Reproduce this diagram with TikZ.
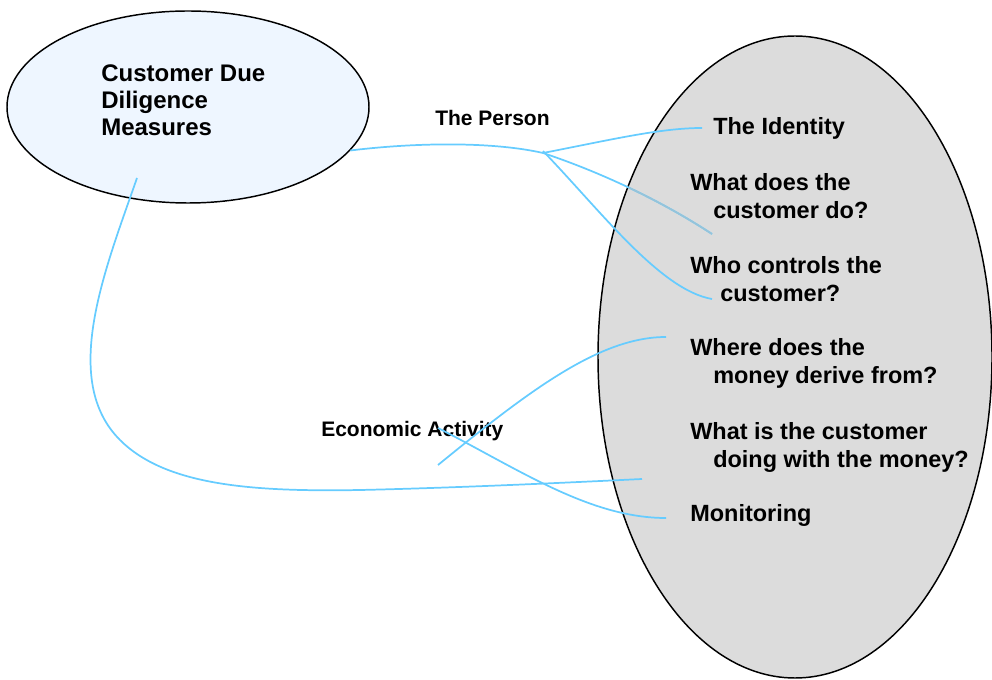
\documentclass[tikz,border=0pt]{standalone}
\usepackage{fontspec}
\setmainfont{Liberation Sans}
\usetikzlibrary{shapes.geometric}

\definecolor{cddfill}{RGB}{238,246,255}
\definecolor{checkfill}{RGB}{220,220,220}
\definecolor{linkblue}{RGB}{102,204,255}
\definecolor{linkmuted}{RGB}{150,196,218}

\tikzset{
  link/.style={draw=linkblue, line width=1.3pt},
  bubble/.style={ellipse, draw=black, line width=1.1pt, inner sep=0pt},
  question/.style={anchor=north west, inner sep=0pt, align=left,
    font=\fontsize{17.6}{21}\selectfont\bfseries},
  topic/.style={anchor=north west, inner sep=0pt,
    font=\fontsize{15.75}{18}\selectfont\bfseries}
}

\begin{document}
\begin{tikzpicture}[x=0.75pt,y=0.75pt,yscale=-1,xscale=1]
	\useasboundingbox (0,0) rectangle (992,680);
	
	%Shape: Ellipse [cdd]
	\node [bubble, fill=cddfill, minimum width=271.5pt, minimum height=144pt] (cdd) at (188,107) {};
	%Shape: Ellipse [checks]
	\node [bubble, fill=checkfill, minimum width=295.5pt, minimum height=481.5pt] (checks) at (795,357) {};
	
	% Text Node
	\node [anchor=north west, inner sep=0pt, align=left, font=\fontsize{18}{20.25}\selectfont\bfseries] (cddtext) at (101,64) {Customer Due\\Diligence\\Measures};
	% Text Node
	\node [topic] (person) at (435,110) {The Person};
	% Text Node
	\node [topic] (activity) at (321,421) {Economic Activity};
	% Text Node
	\node [question] (identity) at (713,117) {The Identity};
	% Text Node
	\node [question] (doing) at (690,173) {What does the\\\hspace*{17.25pt}customer do?};
	% Text Node
	\node [question] (control) at (690,256) {Who controls the\\\hspace*{22.5pt}customer?};
	% Text Node
	\node [question] (source) at (690,338) {Where does the\\\hspace*{17.25pt}money derive from?};
	% Text Node
	\node [question] (usage) at (690,422) {What is the customer\\\hspace*{17.25pt}doing with the money?};
	% Text Node
	\node [question] (monitor) at (690,504) {Monitoring};
	
	%Connector ends
	\coordinate (personhub) at (543,153);
	\coordinate (identityend) at (702,128);
	\coordinate (doingend) at (712,234);
	\coordinate (controlend) at (712,299);
	\coordinate (activityhub) at (438,465);
	\coordinate (activitytop) at (438,428);
	\coordinate (sourceend) at (666,337);
	\coordinate (monitorend) at (666,518);
	\coordinate (cddlow) at (137,178);
	\coordinate (usageend) at (642,479);
	
	%Curve Lines
	\draw [link] (cdd.-15) .. controls (420,142) and (495,142) .. (personhub) .. controls (600,172) and (660,200) .. (doingend) ;
	\begin{scope}
		\clip (795,357) ellipse [x radius=196, y radius=320];
		\draw [link, draw=linkmuted] (personhub) .. controls (600,172) and (660,200) .. (doingend) ;
	\end{scope}
	%Curve Lines
	\draw [link] (personhub) .. controls (610,140) and (660,128) .. (identityend) ;
	%Curve Lines
	\draw [link] ([yshift=-1.5pt]personhub) .. controls (600,210) and (660,290) .. (controlend) ;
	%Curve Lines
	\draw [link] (activityhub) .. controls (530,390) and (600,337) .. (sourceend) ;
	%Curve Lines
	\draw [link] (activitytop) .. controls (520,470) and (590,518) .. (monitorend) ;
	%Curve Lines
	\draw [link] (cddlow) .. controls (105,270) and (60,380) .. (120,440) .. controls (165,485) and (250,492) .. (360,490) .. controls (450,488) and (560,483) .. (usageend) ;
	
\end{tikzpicture}
\end{document}
